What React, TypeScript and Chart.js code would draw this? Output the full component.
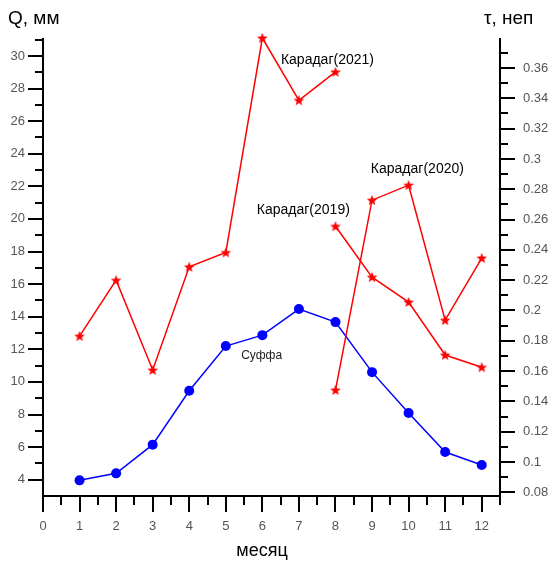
import { useEffect, useRef } from 'react';
import { Chart, registerables } from 'chart.js';

Chart.register(...registerables);

// ---- data ----
const months = [1, 2, 3, 4, 5, 6, 7, 8, 9, 10, 11, 12];
const suffaQ = [3.96, 4.39, 6.15, 9.46, 12.2, 12.87, 14.47, 13.67, 10.6, 8.09, 5.7, 4.9];

const karadag2021Months = [1, 2, 3, 4, 5, 6, 7, 8];
const karadag2021Q = [12.81, 16.24, 10.73, 17.06, 17.94, 31.1, 27.28, 29.02];

const karadag2019Months = [8, 9, 10, 11, 12];
const karadag2019Q = [19.55, 16.43, 14.9, 11.65, 10.9];

const karadag2020Months = [8, 9, 10, 11, 12];
const karadag2020Q = [9.5, 21.15, 22.07, 13.79, 17.6];

// axis ranges
const xMin = 0;
const xMax = 12.5;
const qMin = 3;
const qMax = 31.1;
const tauMin = 0.0776;
const tauMax = 0.3798;

// annotation labels (data coordinates)
const seriesLabels = [
  { text: 'Карадаг(2021)', x: 7.78, y: 29.73, size: 14, color: '#000' },
  { text: 'Карадаг(2020)', x: 10.24, y: 23.05, size: 14, color: '#000' },
  { text: 'Карадаг(2019)', x: 7.12, y: 20.54, size: 14, color: '#000' },
  { text: 'Суффа', x: 5.98, y: 11.58, size: 12, color: '#222' },
];

const FONT = "Arial, 'Liberation Sans', sans-serif";

function makeStar(color: string) {
  const c = document.createElement('canvas');
  c.width = 12;
  c.height = 12;
  const ctx = c.getContext('2d')!;
  ctx.beginPath();
  for (let i = 0; i < 10; i++) {
    const r = i % 2 === 0 ? 5.6 : 2.4;
    const a = -Math.PI / 2 + (i * Math.PI) / 5;
    const px = 6 + r * Math.cos(a);
    const py = 6.4 + r * Math.sin(a);
    if (i === 0) ctx.moveTo(px, py);
    else ctx.lineTo(px, py);
  }
  ctx.closePath();
  ctx.fillStyle = color;
  ctx.fill();
  return c;
}

const toXY = (xs: number[], ys: number[]) => xs.map((x, i) => ({ x, y: ys[i] }));

const decorPlugin = {
  id: 'decor',
  afterDraw(chart: any) {
    const { ctx, chartArea: a, scales } = chart;
    const sx = scales.x;
    const sy = scales.y;
    const sy2 = scales.y2;
    const line = (x1: number, y1: number, x2: number, y2: number) => {
      ctx.beginPath();
      ctx.moveTo(x1, y1);
      ctx.lineTo(x2, y2);
      ctx.stroke();
    };
    ctx.save();
    ctx.strokeStyle = '#000';
    ctx.lineWidth = 2;
    // axis lines
    line(a.left, a.top, a.left, a.bottom);
    line(a.right, a.top, a.right, a.bottom);
    line(a.left - 1, a.bottom, a.right + 1, a.bottom);
    // left ticks
    for (let v = 4; v <= 31; v++) {
      const p = Math.round(sy.getPixelForValue(v));
      const len = v % 2 === 0 ? 15 : 8;
      line(a.left - len, p, a.left, p);
    }
    // right ticks
    for (let k = 8; k <= 37; k++) {
      const p = Math.round(sy2.getPixelForValue(k / 100));
      const len = k % 2 === 0 ? 15 : 8;
      line(a.right, p, a.right + len, p);
    }
    // bottom ticks
    for (let k = 0; k <= 25; k++) {
      const p = Math.round(sx.getPixelForValue(k / 2));
      const len = k % 2 === 0 ? 16 : 9;
      line(p, a.bottom, p, a.bottom + len);
    }
    // axis titles
    ctx.fillStyle = '#000';
    ctx.textBaseline = 'middle';
    ctx.font = `19px ${FONT}`;
    ctx.textAlign = 'left';
    ctx.fillText('Q, мм', 8, 19);
    ctx.fillText('τ, неп', 484, 19);
    ctx.font = `18px ${FONT}`;
    ctx.textAlign = 'center';
    ctx.fillText('месяц', 262, 551);
    // series labels
    for (const l of seriesLabels) {
      ctx.font = `${l.size}px ${FONT}`;
      ctx.fillStyle = l.color;
      ctx.textAlign = 'center';
      ctx.fillText(l.text, sx.getPixelForValue(l.x), sy.getPixelForValue(l.y));
    }
    ctx.restore();
  },
};

export default function App() {
  const ref = useRef<HTMLCanvasElement>(null);
  useEffect(() => {
    const star = makeStar('#ff0000');
    const redSet = (label: string, xs: number[], ys: number[]) => ({
      label,
      data: toXY(xs, ys),
      borderColor: '#ff0000',
      backgroundColor: '#ff0000',
      borderWidth: 1.5,
      pointStyle: star,
      pointRadius: 5,
      tension: 0,
      yAxisID: 'y',
      clip: false as any,
    });
    const tickFont = { family: FONT, size: 13 };
    const chart = new Chart(ref.current!, {
      type: 'line',
      data: {
        datasets: [
          redSet('Карадаг(2021)', karadag2021Months, karadag2021Q),
          redSet('Карадаг(2019)', karadag2019Months, karadag2019Q),
          redSet('Карадаг(2020)', karadag2020Months, karadag2020Q),
          {
            label: 'Суффа',
            data: toXY(months, suffaQ),
            borderColor: '#0000ff',
            backgroundColor: '#0000ff',
            borderWidth: 1.5,
            pointStyle: 'circle',
            pointRadius: 5,
            pointBorderWidth: 0,
            tension: 0,
            yAxisID: 'y',
            clip: false as any,
          },
        ],
      },
      options: {
        responsive: false,
        animation: false,
        layout: { padding: { top: 38, left: 0, right: 0, bottom: 0 } },
        plugins: { legend: { display: false }, tooltip: { enabled: false } },
        scales: {
          x: {
            type: 'linear',
            position: 'bottom',
            min: xMin,
            max: xMax,
            grid: { display: false, drawTicks: false },
            border: { display: false },
            ticks: {
              stepSize: 1,
              includeBounds: false,
              padding: 23,
              color: '#555',
              font: tickFont,
              callback: (v: any) => (Number.isInteger(v) ? String(v) : ''),
              maxRotation: 0,
              autoSkip: false,
            },
            afterFit: (s: any) => {
              s.height = 65;
            },
          },
          y: {
            type: 'linear',
            position: 'left',
            min: qMin,
            max: qMax,
            grid: { display: false, drawTicks: false },
            border: { display: false },
            ticks: {
              stepSize: 2,
              includeBounds: false,
              padding: 18,
              color: '#555',
              font: tickFont,
              callback: (v: any) => String(v),
              autoSkip: false,
            },
            afterFit: (s: any) => {
              s.width = 43;
            },
          },
          y2: {
            type: 'linear',
            position: 'right',
            min: tauMin,
            max: tauMax,
            grid: { display: false, drawTicks: false },
            border: { display: false },
            ticks: {
              stepSize: 0.02,
              includeBounds: false,
              padding: 23,
              color: '#555',
              font: tickFont,
              callback: (v: any) => String(+Number(v).toFixed(2)),
              autoSkip: false,
            },
            afterFit: (s: any) => {
              s.width = 52;
            },
          },
        },
      } as any,
      plugins: [decorPlugin],
    });
    return () => chart.destroy();
  }, []);
  return (
    <div style={{ position: 'absolute', left: 0, top: 0, width: 552, height: 561, background: '#fff' }}>
      <canvas ref={ref} width={552} height={561} />
    </div>
  );
}
